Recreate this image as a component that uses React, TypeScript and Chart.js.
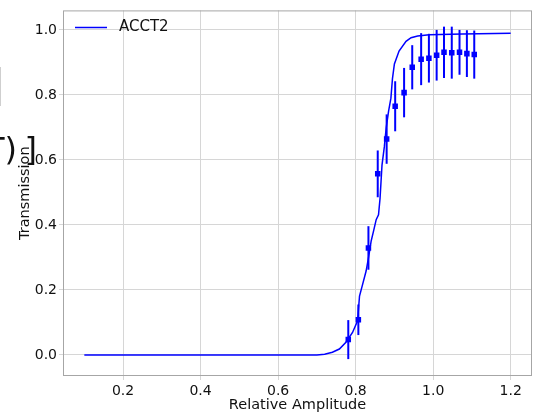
import React, { useEffect, useRef } from "react";
import { Chart, registerables } from "chart.js";

Chart.register(...registerables);

const curveX = [0.1, 0.5, 0.7, 0.72, 0.74, 0.758, 0.775, 0.792, 0.805, 0.81, 0.818, 0.827, 0.833, 0.84, 0.846, 0.853, 0.859, 0.863, 0.868, 0.874, 0.879, 0.885, 0.891, 0.895, 0.9, 0.912, 0.93, 0.943, 0.96, 0.99, 1.075, 1.2];
const curveY = [0, 0, 0, 0.002, 0.008, 0.018, 0.039, 0.069, 0.105, 0.181, 0.217, 0.258, 0.298, 0.35, 0.38, 0.416, 0.431, 0.482, 0.584, 0.64, 0.7, 0.75, 0.79, 0.85, 0.895, 0.935, 0.965, 0.976, 0.981, 0.985, 0.987, 0.99];

const ptX = [0.781, 0.807, 0.833, 0.857, 0.88, 0.902, 0.925, 0.946, 0.969, 0.989, 1.009, 1.028, 1.048, 1.068, 1.087, 1.106];
const ptY = [0.047, 0.108, 0.329, 0.557, 0.664, 0.765, 0.807, 0.885, 0.91, 0.913, 0.922, 0.931, 0.93, 0.931, 0.927, 0.924];
const ptErr = [0.06, 0.047, 0.067, 0.072, 0.076, 0.077, 0.076, 0.068, 0.08, 0.075, 0.078, 0.079, 0.08, 0.069, 0.072, 0.074];

const xTicks = [0.2, 0.4, 0.6, 0.8, 1.0, 1.2];
const yTicks = [0.0, 0.2, 0.4, 0.6, 0.8, 1.0];

const seriesName = "ACCT2";
const xTitle = "Relative Amplitude";
const yTitle = "Transmission";

const BLUE = "#0000ff";
const FONT = "'DejaVu Sans', sans-serif";

export default function App() {
  const ref = useRef<HTMLCanvasElement | null>(null);

  useEffect(() => {
    if (!ref.current) return;

    const extras = {
      id: "extras",
      beforeDatasetDraw(chart: any, args: any) {
        if (args.index !== 1) return;
        const ctx = chart.ctx;
        const xs = chart.scales.x;
        const ys = chart.scales.y;
        ctx.save();
        ctx.strokeStyle = BLUE;
        ctx.lineWidth = 2;
        ptX.forEach((x, i) => {
          const px = xs.getPixelForValue(x);
          ctx.beginPath();
          ctx.moveTo(px, ys.getPixelForValue(ptY[i] - ptErr[i]));
          ctx.lineTo(px, ys.getPixelForValue(ptY[i] + ptErr[i]));
          ctx.stroke();
        });
        ctx.restore();
      },
      afterDraw(chart: any) {
        const ctx = chart.ctx;
        const a = chart.chartArea;
        ctx.save();
        // frame
        ctx.strokeStyle = "#a6a6a6";
        ctx.lineWidth = 1;
        ctx.strokeRect(a.left + 0.5, a.top + 0.5, a.right - a.left - 1, a.bottom - a.top - 1);
        // legend
        ctx.strokeStyle = BLUE;
        ctx.lineWidth = 1.5;
        ctx.beginPath();
        ctx.moveTo(75, 27.5);
        ctx.lineTo(107, 27.5);
        ctx.stroke();
        ctx.fillStyle = "#111";
        ctx.font = `15px ${FONT}`;
        ctx.textBaseline = "middle";
        ctx.textAlign = "left";
        ctx.fillText(seriesName, 119, 27.5);
        // axis titles
        ctx.font = `14.5px ${FONT}`;
        ctx.textAlign = "center";
        ctx.fillText(xTitle, (a.left + a.right) / 2, 405);
        ctx.save();
        ctx.translate(25, (a.top + a.bottom) / 2);
        ctx.rotate(-Math.PI / 2);
        ctx.fillText(yTitle, 0, 0);
        ctx.restore();
        // cut-off fragments from neighbouring panel
        ctx.font = `32px ${FONT}`;
        ctx.textAlign = "right";
        ctx.textBaseline = "alphabetic";
        ctx.fillText("T)", 17, 160);
        ctx.fillText("]", 37, 160);
        ctx.strokeStyle = "#cfcfcf";
        ctx.lineWidth = 1;
        ctx.beginPath();
        ctx.moveTo(0.5, 67);
        ctx.lineTo(0.5, 106);
        ctx.stroke();
        ctx.restore();
      },
    };

    const chart = new Chart(ref.current, {
      type: "scatter",
      data: {
        datasets: [
          {
            label: seriesName,
            data: curveX.map((x, i) => ({ x, y: curveY[i] })),
            showLine: true,
            borderColor: BLUE,
            borderWidth: 1.5,
            pointRadius: 0,
            tension: 0,
            order: 2,
          },
          {
            label: "data",
            data: ptX.map((x, i) => ({ x, y: ptY[i] })),
            pointStyle: "rect",
            pointRadius: 3.9,
            backgroundColor: BLUE,
            borderColor: BLUE,
            borderWidth: 0,
            order: 1,
          },
        ],
      },
      options: {
        responsive: false,
        animation: false,
        events: [],
        layout: { padding: { left: 0, top: 8, right: 7, bottom: 0 } },
        plugins: { legend: { display: false }, tooltip: { enabled: false } },
        scales: {
          x: {
            type: "linear",
            min: 0.045,
            max: 1.255,
            afterBuildTicks: (s: any) => {
              s.ticks = xTicks.map((v) => ({ value: v }));
            },
            afterFit: (s: any) => {
              s.height = 38;
            },
            grid: { color: "#d6d6d6", lineWidth: 1, tickLength: 4 },
            border: { display: false },
            ticks: {
              color: "#111",
              font: { family: FONT, size: 14 },
              padding: 3,
              maxRotation: 0,
              autoSkip: false,
              callback: (v: any) => Number(v).toFixed(1),
            },
          },
          y: {
            type: "linear",
            min: -0.065,
            max: 1.06,
            afterBuildTicks: (s: any) => {
              s.ticks = yTicks.map((v) => ({ value: v }));
            },
            afterFit: (s: any) => {
              s.width = 63;
            },
            grid: { color: "#d6d6d6", lineWidth: 1, tickLength: 4 },
            border: { display: false },
            ticks: {
              color: "#111",
              font: { family: FONT, size: 14 },
              padding: 2,
              autoSkip: false,
              callback: (v: any) => Number(v).toFixed(1),
            },
          },
        },
      },
      plugins: [extras],
    });
    return () => chart.destroy();
  }, []);

  return (
    <div style={{ position: "absolute", left: 0, top: 0, width: 539, height: 414, background: "#fff" }}>
      <canvas ref={ref} width={539} height={414} style={{ display: "block" }} />
    </div>
  );
}
